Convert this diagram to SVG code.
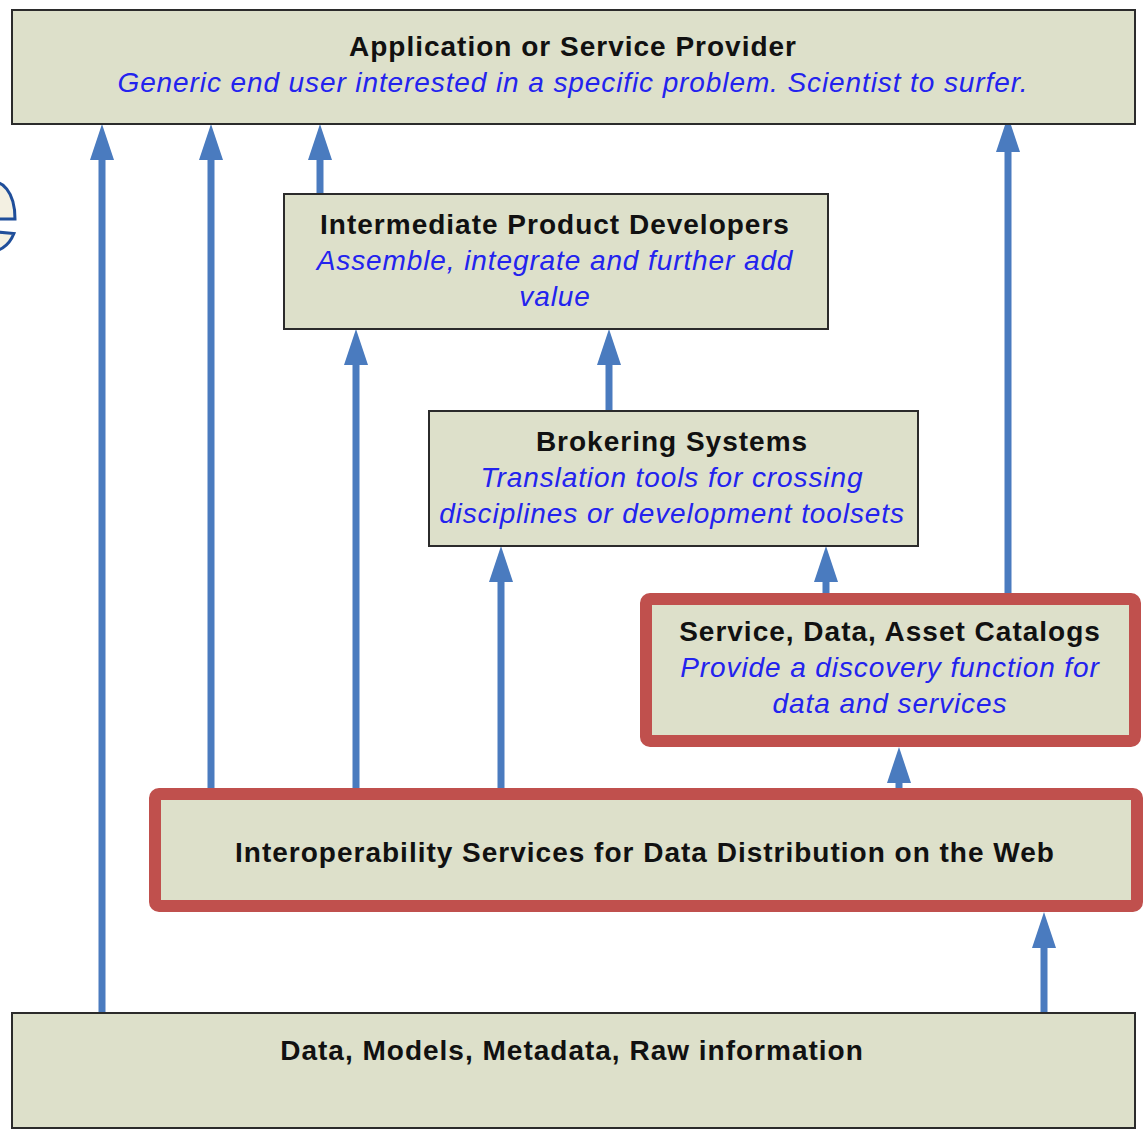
<svg xmlns="http://www.w3.org/2000/svg" width="1144" height="1131" viewBox="0 0 1144 1131">
<style>
.box{fill:#dde0ca;stroke:#2b2b2b;stroke-width:2}
.rbox{fill:#dde0ca;stroke:#c0504d;stroke-width:12}
.t{font-family:"Liberation Sans",Arial,sans-serif;font-weight:bold;font-size:28px;letter-spacing:1px;fill:#111;text-anchor:middle}
.s{font-family:"Liberation Sans",Arial,sans-serif;font-style:italic;font-size:28px;letter-spacing:0.9px;fill:#2323ee;text-anchor:middle}
.a{stroke:#4a7bbf;stroke-width:7;fill:none;marker-end:url(#ah)}
</style>
<defs>
<marker id="ah" markerUnits="userSpaceOnUse" viewBox="0 0 36 24" markerWidth="36" markerHeight="24" refX="1" refY="12" orient="auto">
<path d="M0,0 L36,12 L0,24 z" fill="#4a7bbf"/>
</marker>
</defs>
<rect width="1144" height="1131" fill="#ffffff"/>
<text x="-56" y="252" font-family="Liberation Sans,Arial,sans-serif" font-weight="bold" font-size="136" fill="#f3f0e2" stroke="#1f4e9a" stroke-width="3">e</text>
<g id="connectors">
<line class="a" x1="102" y1="1013" x2="102" y2="159"/>
<line class="a" x1="211" y1="788" x2="211" y2="159"/>
<line class="a" x1="320" y1="194" x2="320" y2="159"/>
<line class="a" x1="1008" y1="593" x2="1008" y2="151"/>
<line class="a" x1="356" y1="788" x2="356" y2="364"/>
<line class="a" x1="609" y1="411" x2="609" y2="364"/>
<line class="a" x1="501" y1="788" x2="501" y2="581"/>
<line class="a" x1="826" y1="593" x2="826" y2="581"/>
<line class="a" x1="899" y1="788" x2="899" y2="782"/>
<line class="a" x1="1044" y1="1013" x2="1044" y2="947"/>
</g>
<g id="app">
<rect class="box" x="12" y="10" width="1123" height="114"/>
<text class="t" x="573" y="56">Application or Service Provider</text>
<text class="s" x="573" y="92">Generic end user interested in a specific problem. Scientist to surfer.</text>
</g>
<g id="intermediate">
<rect class="box" x="284" y="194" width="544" height="135"/>
<text class="t" x="555" y="234">Intermediate Product Developers</text>
<text class="s" x="555" y="270">Assemble, integrate and further add</text>
<text class="s" x="555" y="306">value</text>
</g>
<g id="brokering">
<rect class="box" x="429" y="411" width="489" height="135"/>
<text class="t" x="672" y="451">Brokering Systems</text>
<text class="s" x="672" y="487">Translation tools for crossing</text>
<text class="s" x="672" y="523">disciplines or development toolsets</text>
</g>
<g id="catalogs">
<rect class="rbox" x="646" y="599" width="489" height="142" rx="4"/>
<text class="t" x="890" y="641">Service, Data, Asset Catalogs</text>
<text class="s" x="890" y="677">Provide a discovery function for</text>
<text class="s" x="890" y="713">data and services</text>
</g>
<g id="interop">
<rect class="rbox" x="155" y="794" width="982" height="112" rx="4"/>
<text class="t" x="645" y="862">Interoperability Services for Data Distribution on the Web</text>
</g>
<g id="data">
<rect class="box" x="12" y="1013" width="1123" height="115"/>
<text class="t" x="572" y="1060">Data, Models, Metadata, Raw information</text>
</g>
</svg>
